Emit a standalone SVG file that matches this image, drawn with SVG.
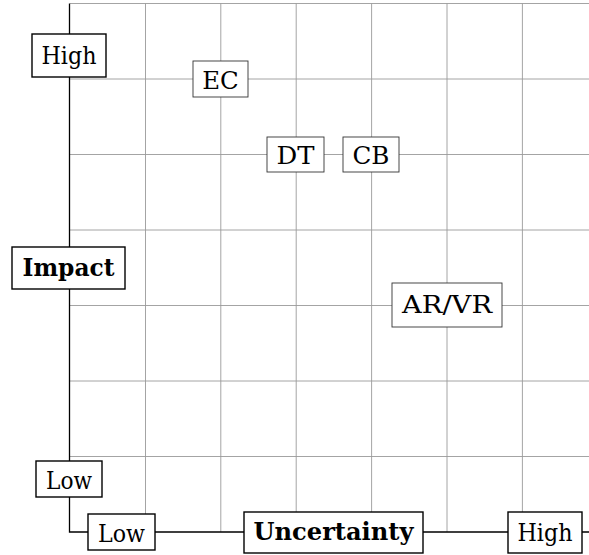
<svg xmlns="http://www.w3.org/2000/svg" width="589" height="555" viewBox="0 0 589 555">
  <style>
    .grid { stroke: #9a9a9a; stroke-width: 0.9; fill: none; }
    .axis { stroke: #000; stroke-width: 1.3; fill: none; }
    .lbl rect { fill: #fff; stroke: #000; stroke-width: 1.4; }
    .node rect { fill: #fff; stroke: #333; stroke-width: 0.9; }
    text { font-family: "DejaVu Serif", "Liberation Serif", serif; font-size: 25px; fill: #000; text-anchor: middle; }
    .b { font-weight: bold; }
  </style>

  <!-- background grid -->
  <g id="grid" class="grid">
    <path d="M70 3.5H589M70 79H589M70 154.5H589M70 230H589M70 305.5H589M70 381H589M70 456.5H589"/>
    <path d="M145.5 3.5V532M220.8 3.5V532M296.2 3.5V532M371.6 3.5V532M447 3.5V532M522.4 3.5V532"/>
  </g>

  <!-- axes -->
  <g id="connectors" class="axis">
    <path d="M69.5 3.5V532H589"/>
  </g>

  <!-- vertical axis labels -->
  <g id="impact-high" class="lbl">
    <rect x="32" y="34" width="74" height="43"/>
    <text x="69" y="63.5" textLength="55" lengthAdjust="spacingAndGlyphs">High</text>
  </g>
  <g id="impact" class="lbl">
    <rect x="12" y="247" width="113" height="42"/>
    <text class="b" x="68.5" y="275.5" textLength="92" lengthAdjust="spacingAndGlyphs">Impact</text>
  </g>
  <g id="impact-low" class="lbl">
    <rect x="36" y="461" width="66" height="36"/>
    <text x="69" y="489" textLength="46" lengthAdjust="spacingAndGlyphs">Low</text>
  </g>

  <!-- horizontal axis labels -->
  <g id="uncertainty-low" class="lbl">
    <rect x="88" y="514" width="67" height="36"/>
    <text x="121.5" y="541.5" textLength="47" lengthAdjust="spacingAndGlyphs">Low</text>
  </g>
  <g id="uncertainty" class="lbl">
    <rect x="244" y="512" width="179" height="41"/>
    <text class="b" x="333.5" y="540" textLength="160" lengthAdjust="spacingAndGlyphs">Uncertainty</text>
  </g>
  <g id="uncertainty-high" class="lbl">
    <rect x="508" y="512" width="74" height="41"/>
    <text x="545" y="540.5" textLength="55" lengthAdjust="spacingAndGlyphs">High</text>
  </g>

  <!-- plotted items -->
  <g id="ec" class="node">
    <rect x="193" y="61" width="55" height="36"/>
    <text x="220.5" y="88.5" textLength="36.5" lengthAdjust="spacingAndGlyphs">EC</text>
  </g>
  <g id="dt" class="node">
    <rect x="267" y="137" width="57" height="35"/>
    <text x="295.5" y="164" textLength="38" lengthAdjust="spacingAndGlyphs">DT</text>
  </g>
  <g id="cb" class="node">
    <rect x="343" y="137" width="56" height="35"/>
    <text x="371" y="164" textLength="37" lengthAdjust="spacingAndGlyphs">CB</text>
  </g>
  <g id="arvr" class="node">
    <rect x="392" y="283" width="110" height="44"/>
    <text x="447" y="312.5" textLength="90" lengthAdjust="spacingAndGlyphs">AR/VR</text>
  </g>
</svg>
